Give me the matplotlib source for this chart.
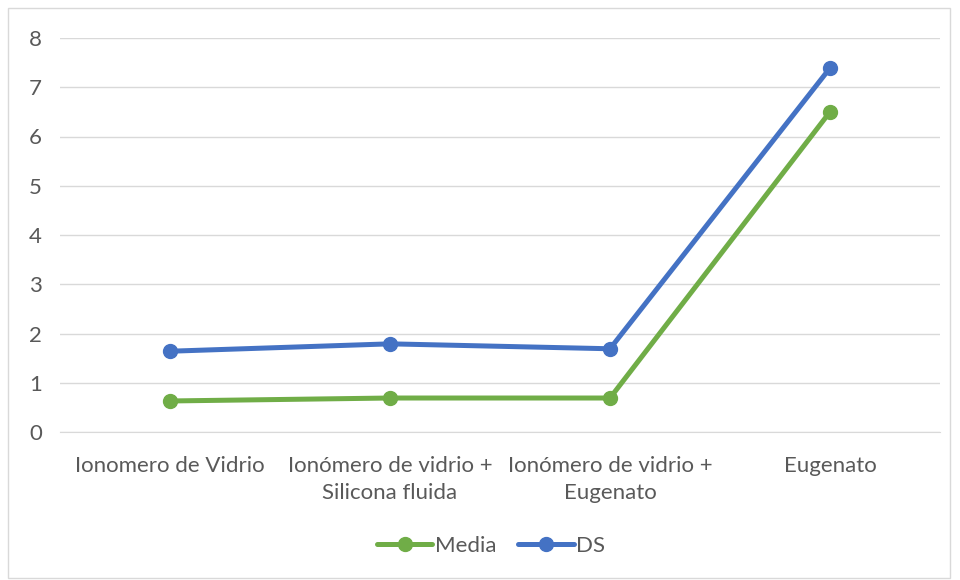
import matplotlib
matplotlib.use("Agg")
import matplotlib.pyplot as plt
from matplotlib.patches import Rectangle

categories = ["Ionomero de Vidrio", "Ionómero de vidrio +\nSilicona fluida",
              "Ionómero de vidrio +\nEugenato", "Eugenato"]
media = [0.63, 0.69, 0.69, 6.5]
ds = [1.64, 1.79, 1.69, 7.39]
yticks = [0, 1, 2, 3, 4, 5, 6, 7, 8]

plt.rcParams['font.family'] = ['Lato', 'DejaVu Sans']
text_color = "#595959"

fig = plt.figure(figsize=(9.6, 5.8), dpi=100)
fig.patches.append(Rectangle((8/960, 2/580), 942/960, 570/580, transform=fig.transFigure,
                             fill=False, edgecolor="#d9d9d9", linewidth=1))
ax = fig.add_axes([60/960, 1-432/580, 880/960, 394/580])

x = list(range(len(categories)))
ax.plot(x, media, color="#70ad47", linewidth=3.6, marker="o", markersize=10,
        label="Media", solid_capstyle="round")
ax.plot(x, ds, color="#4472c4", linewidth=3.6, marker="o", markersize=10,
        label="DS", solid_capstyle="round")

ax.set_xlim(-0.5, 3.5)
ax.set_ylim(0, 8)
ax.set_yticks(yticks)
ax.set_yticklabels([str(v) for v in yticks], color=text_color, fontsize=16)
ax.set_xticks(x)
ax.set_xticklabels(categories, color=text_color, fontsize=16, linespacing=1.45)
ax.tick_params(axis="both", length=0)
ax.tick_params(axis="y", pad=13)
ax.tick_params(axis="x", pad=17)
ax.grid(axis="y", color="#d9d9d9", linewidth=1)
ax.set_axisbelow(True)
for s in ["top", "right", "left"]:
    ax.spines[s].set_visible(False)
ax.spines["bottom"].set_color("#d9d9d9")

leg = fig.legend(loc="center", bbox_to_anchor=(491/960, 1-546/580), ncol=2, frameon=False,
                 fontsize=16, handlelength=2.5, columnspacing=1.0, handletextpad=0.1)
for t in leg.get_texts():
    t.set_color(text_color)

fig.savefig("out.png", dpi=100)
